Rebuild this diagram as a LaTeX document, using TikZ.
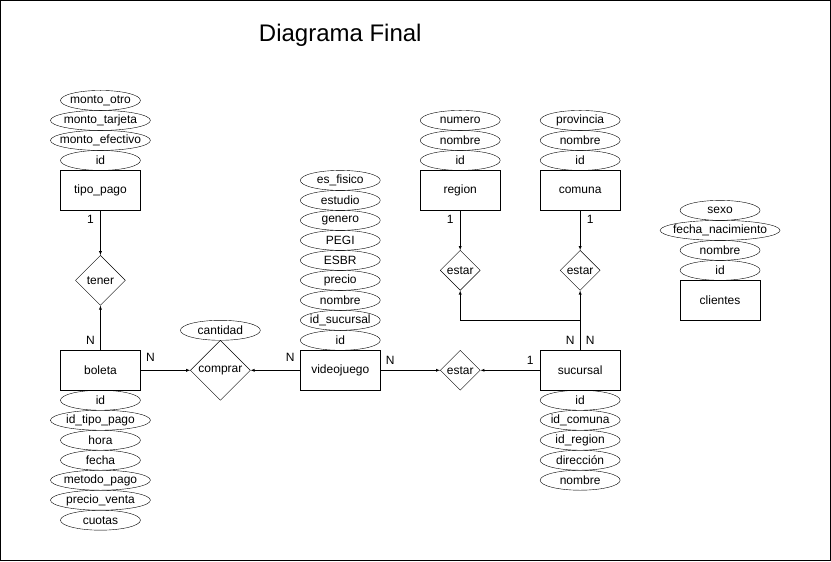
\documentclass[tikz,border=0pt]{standalone}
\usepackage{fontspec}
\setmainfont{Liberation Sans}
\usetikzlibrary{shapes.geometric}
\usetikzlibrary{positioning}

\begin{document}
\begin{tikzpicture}
    [
    x=1pt, y=-1pt,
    every node/.style={font=\fontsize{12}{14}\selectfont},
    entity/.style={rectangle,draw,inner sep=0pt,minimum width=80pt,minimum height=40pt},
    attr/.style={ellipse,draw,inner xsep=-20pt,inner ysep=-2pt,minimum width=80pt,minimum height=20pt},
    wide/.style={minimum width=100pt},
    rel/.style={diamond,draw,inner sep=0pt,minimum size=#1},
    card/.style={inner sep=0pt},
    ]
    \useasboundingbox (-0.5,-0.5) rectangle (831,561);
    \draw (0,0) rectangle (830,560);
    \node (title) at (340,35) [font=\fontsize{24}{28}\selectfont] {Diagrama Final};

    % tipo_pago y tener
    \node (tipo) at (100,190) [entity] {tipo\_pago};
    \node (tp1) at (100,160) [attr] {id};
    \node (tp2) at (100,140) [attr, wide] {monto\_efectivo};
    \node (tp3) at (100,120) [attr, wide] {monto\_tarjeta};
    \node (tp4) at (100,100) [attr] {monto\_otro};
    \node (tener) at (100,280) [rel=50pt] {tener};

    % boleta
    \node (boleta) at (100,370) [entity] {boleta};
    \node (b1) at (100,400) [attr] {id};
    \node (b2) at (100,420) [attr, wide] {id\_tipo\_pago};
    \node (b3) at (100,440) [attr] {hora};
    \node (b4) at (100,460) [attr] {fecha};
    \node (b5) at (100,480) [attr, wide] {metodo\_pago};
    \node (b6) at (100,500) [attr, wide] {precio\_venta};
    \node (b7) at (100,520) [attr] {cuotas};

    % comprar
    \node (comprar) at (220,370) [rel=60pt] {comprar};
    \node (cant) at (220,330) [attr] {cantidad};

    % videojuego
    \node (video) at (340,370) [entity] {videojuego};
    \node (v1) at (340,340) [attr] {id};
    \node (v2) at (340,320) [attr] {id\_sucursal};
    \node (v3) at (340,300) [attr] {nombre};
    \node (v4) at (340,280) [attr] {precio};
    \node (v5) at (340,260) [attr] {ESBR};
    \node (v6) at (340,240) [attr] {PEGI};
    \node (v7) at (340,220) [attr] {genero};
    \node (v8) at (340,200) [attr] {estudio};
    \node (v9) at (340,180) [attr] {es\_fisico};

    % sucursal
    \node (estarV) at (460,370) [rel=40pt] {estar};
    \node (suc) at (580,370) [entity] {sucursal};
    \node (s1) at (580,400) [attr] {id};
    \node (s2) at (580,420) [attr] {id\_comuna};
    \node (s3) at (580,440) [attr] {id\_region};
    \node (s4) at (580,460) [attr] {dirección};
    \node (s5) at (580,480) [attr] {nombre};

    % region y comuna
    \node (region) at (460,190) [entity] {region};
    \node (r1) at (460,160) [attr] {id};
    \node (r2) at (460,140) [attr] {nombre};
    \node (r3) at (460,120) [attr] {numero};
    \node (estarR) at (460,270) [rel=40pt] {estar};
    \node (comuna) at (580,190) [entity] {comuna};
    \node (c1) at (580,160) [attr] {id};
    \node (c2) at (580,140) [attr] {nombre};
    \node (c3) at (580,120) [attr] {provincia};
    \node (estarC) at (580,270) [rel=40pt] {estar};

    % clientes
    \node (cli) at (720,300) [entity] {clientes};
    \node (k1) at (720,270) [attr] {id};
    \node (k2) at (720,250) [attr] {nombre};
    \node (k3) at (720,230) [attr, minimum width=120pt] {fecha\_nacimiento};
    \node (k4) at (720,210) [attr] {sexo};

    \draw [-latex] (tipo) to (tener);
    \draw [-latex] (boleta) to (tener);
    \draw [-latex] (boleta) to (comprar);
    \draw [-latex] (video) to (comprar);
    \draw [-latex] (video) to (estarV);
    \draw [-latex] (suc) to (estarV);
    \draw [-latex] (region) to (estarR);
    \draw [-latex] (comuna) to (estarC);
    \draw [-latex] (suc) to (estarC);
    \coordinate (split) at (580,320);
    \draw [-latex] (split) -| (estarR);

    \node (n1) at (90,219) [card] {1};
    \node (n2) at (90,340) [card] {N};
    \node (n3) at (150,357) [card] {N};
    \node (n4) at (290,357) [card] {N};
    \node (n5) at (390,360) [card] {N};
    \node (n6) at (530,360) [card] {1};
    \node (n7) at (450,219) [card] {1};
    \node (n8) at (590,219) [card] {1};
    \node (n9) at (570,340) [card] {N};
    \node (n10) at (590,340) [card] {N};
  \end{tikzpicture}
\end{document}
